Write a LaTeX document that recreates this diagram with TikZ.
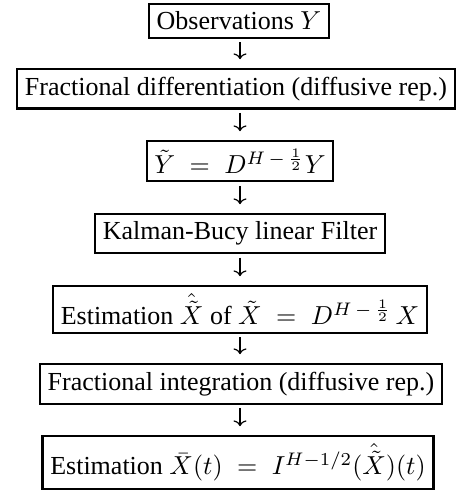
\documentclass[tikz,border=0pt]{standalone}
\usepackage{fontspec}
\setmainfont{Liberation Serif}
\usetikzlibrary{arrows.meta}
\begin{document}
\begin{tikzpicture}[x=0.3846pt,y=-0.3846pt,
  box/.style={draw,line width=0.8pt,inner sep=3pt,anchor=north,font=\fontsize{10}{12}\selectfont},
  flow/.style={-{To[length=2.2pt,width=5pt]},line width=0.45pt,shorten <=1.3pt,shorten >=3.4pt}]
\useasboundingbox (0,0) rectangle (458,493);
\node[box] (n1) at (239,3) {Observations $Y$};
\node[box] (n2) at (236,68) {Fractional differentiation (diffusive rep.)};
\node[box] (n3) at (240,140) {$\tilde{Y} \;=\; D^{H\,-\,\frac{1}{2}}Y$};
\node[box] (n4) at (240,213) {Kalman-Bucy linear Filter};
\node[box] (n5) at (240,285) {Estimation $\hat{\tilde{X}}$ of $\tilde{X} \;=\; D^{H\,-\,\frac{1}{2}}\,X$};
\node[box] (n6) at (241,363) {Fractional integration (diffusive rep.)};
\node[box] (n7) at (238,435) {Estimation $\bar{X}(t) \;=\; I^{H-1/2}(\hat{\tilde{X}})(t)$};
\foreach \a/\b in {n1/n2,n2/n3,n3/n4,n4/n5,n5/n6,n6/n7}
  \draw[flow] (\a.south -| 240,0) -- (\b.north -| 240,0);
\end{tikzpicture}
\end{document}
